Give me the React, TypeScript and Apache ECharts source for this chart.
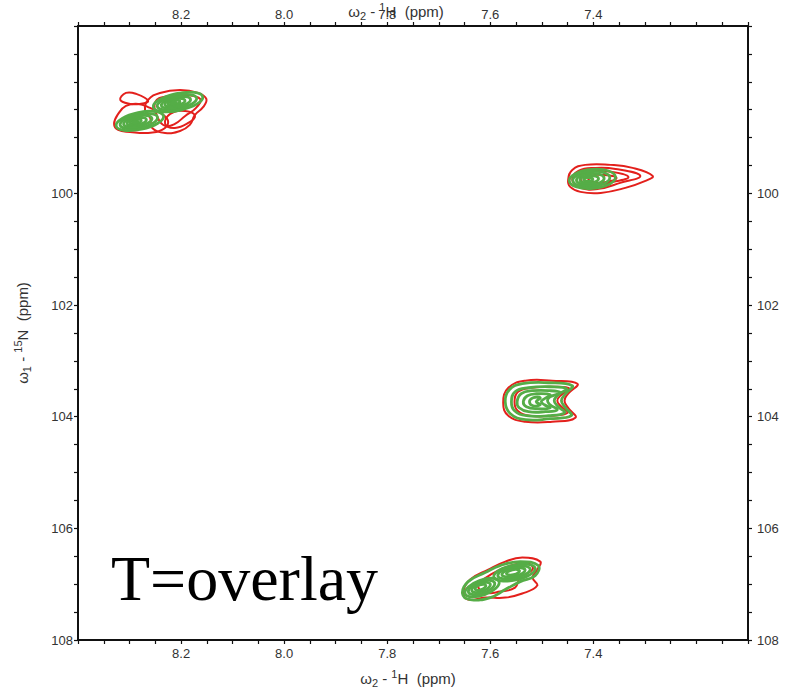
import React, { useEffect, useRef } from "react";
import * as echarts from "echarts";

const X_RANGE = [7.1, 8.4];
const Y_RANGE = [97, 108];
const X_INTERVAL = 0.1;
const Y_INTERVAL = 1;
const X_LABELED = [8.2, 8.0, 7.8, 7.6, 7.4];
const Y_LABELED = [100, 102, 104, 106, 108];
const X_TITLE = "{n|ω}{sub|2}{n| - }{sup|1}{n|H  (ppm)}";
const Y_TITLE = "{n|ω}{sub|1}{n| - }{sup|15}{n|N  (ppm)}";
const ANNOTATION = "T=overlay";

const RED = "#e3201c";
const GREEN = "#55ad47";

// Red contour polygons, [1H ppm, 15N ppm]
const RED_CONTOURS: number[][][] = [
  // peak at ~8.2 / 98.4
  [[8.264,98.325],[8.241,98.199],[8.202,98.146],[8.167,98.199],[8.151,98.307],[8.157,98.45],[8.173,98.593],[8.183,98.772],[8.202,98.88],[8.231,98.916],[8.256,98.826],[8.26,98.647],[8.27,98.504]],
  [[8.33,98.754],[8.322,98.575],[8.307,98.432],[8.283,98.396],[8.26,98.468],[8.237,98.575],[8.225,98.719],[8.237,98.862],[8.264,98.916],[8.299,98.898],[8.322,98.862]],
  [[8.318,98.325],[8.307,98.199],[8.287,98.217],[8.264,98.343],[8.28,98.396],[8.299,98.396]],
  [[8.25,98.361],[8.225,98.253],[8.192,98.235],[8.163,98.307],[8.171,98.468],[8.192,98.611],[8.212,98.754],[8.231,98.79],[8.245,98.647]],
  [[8.221,98.575],[8.192,98.522],[8.173,98.611],[8.186,98.737],[8.212,98.826],[8.231,98.754]],
  // peak at ~7.4 / 99.7
  [[7.449,99.757],[7.441,99.578],[7.416,99.488],[7.367,99.488],[7.324,99.542],[7.285,99.685],[7.299,99.775],[7.338,99.9],[7.386,99.99],[7.425,99.972],[7.445,99.882]],
  [[7.441,99.757],[7.429,99.596],[7.396,99.542],[7.357,99.56],[7.309,99.685],[7.348,99.811],[7.39,99.918],[7.425,99.9]],
  [[7.425,99.739],[7.41,99.614],[7.377,99.596],[7.332,99.703],[7.371,99.811],[7.406,99.864]],
  [[7.41,99.739],[7.394,99.667],[7.355,99.721],[7.39,99.811]],
  // peak at ~7.5 / 103.7
  [[7.575,103.749],[7.565,103.481],[7.532,103.355],[7.48,103.355],[7.431,103.409],[7.449,103.588],[7.456,103.713],[7.449,103.839],[7.435,104.018],[7.48,104.089],[7.532,104.089],[7.565,103.982]],
  [[7.553,103.731],[7.546,103.552],[7.52,103.481],[7.478,103.463],[7.446,103.498],[7.462,103.606],[7.47,103.713],[7.462,103.821],[7.45,103.928],[7.481,103.982],[7.524,103.982],[7.547,103.892]],
  // peak at ~7.58 / 106.9
  [[7.652,107.133],[7.639,106.918],[7.604,106.739],[7.571,106.596],[7.538,106.524],[7.503,106.596],[7.509,106.739],[7.518,106.882],[7.509,107.025],[7.538,107.168],[7.571,107.24],[7.61,107.24],[7.643,107.276]],
  [[7.623,107.025],[7.596,106.81],[7.561,106.667],[7.526,106.631],[7.518,106.739],[7.542,106.882],[7.552,107.061],[7.581,107.133],[7.61,107.15]],
];

// Green contour polygons
const GREEN_CONTOURS: number[][][] = [
  [[7.571,103.731],[7.563,103.516],[7.538,103.409],[7.487,103.391],[7.441,103.445],[7.454,103.588],[7.462,103.713],[7.454,103.839],[7.443,103.982],[7.484,104.035],[7.532,104.053],[7.561,103.946]],
  [[7.559,103.731],[7.552,103.552],[7.526,103.481],[7.484,103.463],[7.452,103.498],[7.468,103.606],[7.476,103.713],[7.468,103.821],[7.456,103.928],[7.487,103.982],[7.53,103.982],[7.553,103.892]],
  [[7.548,103.731],[7.54,103.588],[7.518,103.534],[7.484,103.534],[7.464,103.57],[7.484,103.642],[7.489,103.713],[7.484,103.785],[7.47,103.874],[7.493,103.91],[7.526,103.91],[7.544,103.839]],
  [[7.536,103.731],[7.528,103.624],[7.511,103.588],[7.484,103.606],[7.495,103.678],[7.501,103.731],[7.495,103.785],[7.484,103.839],[7.509,103.856],[7.53,103.821]],
  [[7.524,103.731],[7.517,103.66],[7.503,103.66],[7.511,103.731],[7.503,103.785],[7.517,103.803]],
  [[7.654,107.168],[7.643,106.954],[7.61,106.792],[7.581,106.667],[7.542,106.596],[7.507,106.667],[7.513,106.846],[7.542,106.954],[7.571,107.097],[7.6,107.24],[7.639,107.276]],
];

// Green elliptical contours: [cx, cy, rx, ry, tilt deg]
const GREEN_ELLIPSES: number[][] = [
  [8.206,98.361,0.049,0.152,12],[8.208,98.365,0.039,0.122,12],[8.21,98.37,0.029,0.092,12],[8.212,98.372,0.02,0.064,12],[8.214,98.375,0.012,0.038,12],[8.215,98.378,0.005,0.016,12],
  [8.28,98.701,0.047,0.152,12],[8.282,98.705,0.037,0.122,12],[8.284,98.708,0.028,0.092,12],[8.286,98.712,0.019,0.064,12],[8.288,98.715,0.011,0.038,12],[8.289,98.718,0.005,0.016,12],
  [7.402,99.739,0.045,0.17,5],[7.404,99.742,0.036,0.136,5],[7.406,99.745,0.027,0.102,5],[7.408,99.748,0.018,0.068,5],[7.41,99.75,0.009,0.034,5],
  [7.616,107.061,0.035,0.134,20],[7.617,107.06,0.027,0.104,20],[7.618,107.058,0.019,0.074,20],[7.619,107.056,0.011,0.045,20],
  [7.553,106.792,0.041,0.134,12],[7.554,106.79,0.032,0.104,12],[7.555,106.788,0.023,0.074,12],[7.556,106.786,0.013,0.045,12],
];

const FONT = "Liberation Sans";
const AXIS_COLOR = "#111";
const LABEL_COLOR = "#333";

const TITLE_RICH = {
  n: { fontSize: 15, fontFamily: FONT, color: LABEL_COLOR, lineHeight: 20, verticalAlign: "middle" },
  sub: { fontSize: 11, fontFamily: FONT, color: LABEL_COLOR, lineHeight: 20, verticalAlign: "bottom" },
  sup: { fontSize: 11, fontFamily: FONT, color: LABEL_COLOR, lineHeight: 20, verticalAlign: "top" },
};

function xAxisCfg(position: "top" | "bottom") {
  const top = position === "top";
  return {
    type: "value",
    position,
    min: X_RANGE[0],
    max: X_RANGE[1],
    inverse: true,
    interval: X_INTERVAL,
    axisLine: { show: true, onZero: false, lineStyle: { color: AXIS_COLOR, width: 2 } },
    axisTick: { show: true, length: 4, lineStyle: { color: AXIS_COLOR, width: 1.2 } },
    minorTick: { show: true, splitNumber: 2, length: 4, lineStyle: { color: AXIS_COLOR, width: 1.2 } },
    splitLine: { show: false },
    minorSplitLine: { show: false },
    axisLabel: {
      formatter: (v: number) => {
        const r = Math.round(v * 10) / 10;
        return X_LABELED.some((l) => Math.abs(l - r) < 1e-6) ? r.toFixed(1) : "";
      },
      showMinLabel: false,
      showMaxLabel: false,
      color: LABEL_COLOR,
      fontSize: 13,
      fontFamily: FONT,
      margin: top ? 5 : 7,
    },
    name: X_TITLE,
    nameLocation: "middle",
    nameMoveOverlap: false,
    nameGap: top ? 5 : 28,
    nameTextStyle: { rich: TITLE_RICH, padding: top ? [0, 34, 0, 0] : [0, 10, 0, 0] },
  };
}

function yAxisCfg(position: "left" | "right") {
  return {
    type: "value",
    position,
    min: Y_RANGE[0],
    max: Y_RANGE[1],
    inverse: true,
    interval: Y_INTERVAL,
    axisLine: { show: true, onZero: false, lineStyle: { color: AXIS_COLOR, width: 2 } },
    axisTick: { show: true, length: 4, lineStyle: { color: AXIS_COLOR, width: 1.2 } },
    minorTick: { show: true, splitNumber: 2, length: 4, lineStyle: { color: AXIS_COLOR, width: 1.2 } },
    splitLine: { show: false },
    minorSplitLine: { show: false },
    axisLabel: {
      formatter: (v: number) => (Y_LABELED.indexOf(Math.round(v)) >= 0 ? String(Math.round(v)) : ""),
      color: LABEL_COLOR,
      fontSize: 13,
      fontFamily: FONT,
      margin: position === "left" ? 5 : 9,
    },
    name: position === "left" ? Y_TITLE : "",
    nameLocation: "middle",
    nameMoveOverlap: false,
    nameGap: 46,
    nameTextStyle: { rich: TITLE_RICH },
  };
}

export default function App() {
  const ref = useRef<HTMLDivElement>(null);
  useEffect(() => {
    if (!ref.current) return;
    const chart = echarts.init(ref.current, null, { renderer: "svg" });
    const option: any = {
      animation: false,
      backgroundColor: "#fff",
      textStyle: { fontFamily: FONT },
      grid: { left: 78, right: 37, top: 26, bottom: 55, containLabel: false, outerBoundsMode: "none" },
      xAxis: [xAxisCfg("bottom"), xAxisCfg("top")],
      yAxis: [yAxisCfg("left"), yAxisCfg("right")],
      graphic: [
        {
          type: "text",
          left: 111,
          top: 546,
          silent: true,
          style: { text: ANNOTATION, fontSize: 64, fontFamily: "Liberation Serif", fill: "#000" },
        },
      ],
      series: [
        {
          type: "custom",
          name: "red",
          xAxisIndex: 0,
          yAxisIndex: 0,
          silent: true,
          clip: true,
          data: RED_CONTOURS.map((p) => p[0]),
          renderItem: (params: any, api: any) => {
            const poly = RED_CONTOURS[params.dataIndex];
            const pts = poly.map((p) => api.coord(p));
            return {
              type: "polygon",
              shape: { points: pts, smooth: 0.45 },
              style: { fill: "none", stroke: RED, lineWidth: 2 },
            };
          },
        },
        {
          type: "custom",
          name: "greenPoly",
          xAxisIndex: 0,
          yAxisIndex: 0,
          silent: true,
          clip: true,
          data: GREEN_CONTOURS.map((p) => p[0]),
          renderItem: (params: any, api: any) => {
            const poly = GREEN_CONTOURS[params.dataIndex];
            const pts = poly.map((p) => api.coord(p));
            return {
              type: "polygon",
              shape: { points: pts, smooth: 0.45 },
              style: { fill: "none", stroke: GREEN, lineWidth: 2.8 },
            };
          },
        },
        {
          type: "custom",
          name: "greenEllipse",
          xAxisIndex: 0,
          yAxisIndex: 0,
          silent: true,
          clip: true,
          data: GREEN_ELLIPSES,
          encode: { x: 0, y: 1 },
          renderItem: (params: any, api: any) => {
            const c = api.coord([api.value(0), api.value(1)]);
            const s = api.size([api.value(2), api.value(3)]);
            return {
              type: "ellipse",
              x: c[0],
              y: c[1],
              rotation: (api.value(4) * Math.PI) / 180,
              shape: { cx: 0, cy: 0, rx: s[0], ry: s[1] },
              style: { fill: "none", stroke: GREEN, lineWidth: 2.8 },
            };
          },
        },
      ],
    };
    chart.setOption(option);
    return () => chart.dispose();
  }, []);
  return (
    <div
      ref={ref}
      style={{ position: "fixed", left: 0, top: 0, width: 785, height: 695, background: "#fff" }}
    />
  );
}
